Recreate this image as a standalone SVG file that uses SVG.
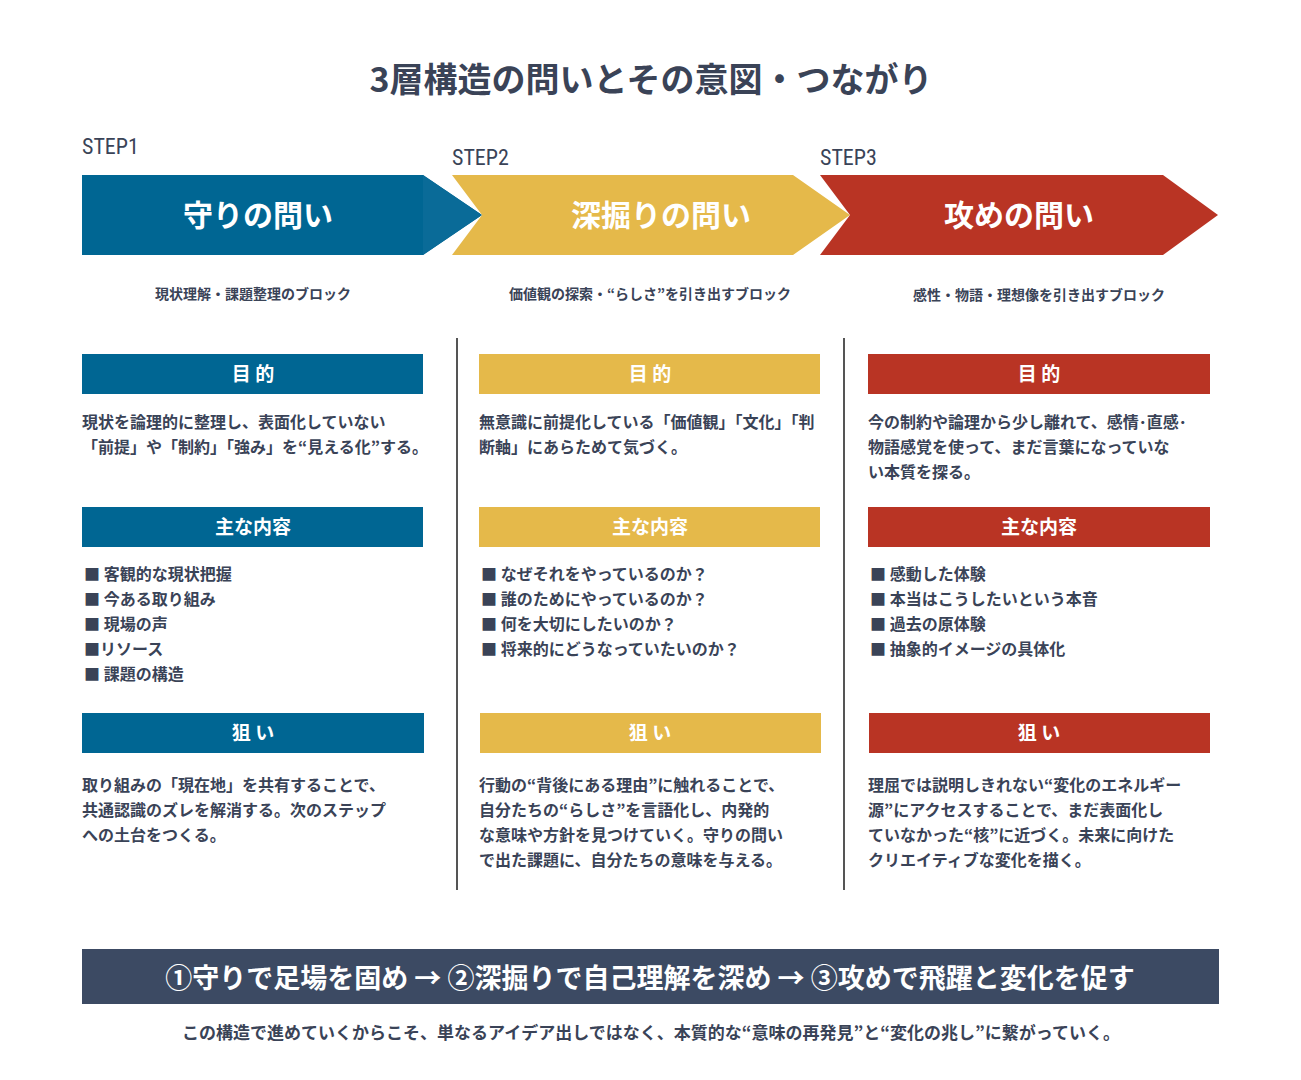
<svg xmlns="http://www.w3.org/2000/svg" width="1301" height="1080" viewBox="0 0 1301 1080">
<style>
text{font-family:"Noto Sans CJK JP","Noto Sans",sans-serif;font-weight:700;fill:#3a4357}
.t{font-size:34px}
.st{font-size:22px;font-family:"Roboto Condensed","Liberation Sans Narrow","Liberation Sans",sans-serif;font-weight:400}
.ar{font-size:30px;fill:#fff;text-anchor:middle}
.sub{font-size:14px;text-anchor:middle}
.hd{font-size:19px;fill:#fff;text-anchor:middle}
.b{font-size:16px}
.bl{fill:#006693}.ye{fill:#e5b94a}.re{fill:#b93424}
</style>
<rect width="1301" height="1080" fill="#fff"/>
<text class="t" x="651" y="92" text-anchor="middle">3層構造の問いとその意図・つながり</text>
<g id="steps">
<text class="st" x="82" y="154">STEP1</text>
<text class="st" x="452" y="165">STEP2</text>
<text class="st" x="820" y="165">STEP3</text>
</g>
<g id="arrow1"><polygon class="bl" points="82,175 423,175 482,215 423,255 82,255"/><polygon points="423,175 482,215 423,255" fill="#0a6b98"/><text class="ar" x="258" y="226">守りの問い</text></g>
<g id="arrow2"><polygon class="ye" points="452,175 793,175 850,215 793,255 452,255 482,215"/><text class="ar" x="661" y="226">深掘りの問い</text></g>
<g id="arrow3"><polygon class="re" points="820,175 1163,175 1218,215 1163,255 820,255 850,215"/><text class="ar" x="1019" y="226">攻めの問い</text></g>
<g id="subs">
<text class="sub" x="253" y="299">現状理解・課題整理のブロック</text>
<text class="sub" x="650" y="299">価値観の探索・“らしさ”を引き出すブロック</text>
<text class="sub" x="1039" y="300">感性・物語・理想像を引き出すブロック</text>
</g>
<g id="connectors"><line x1="457" y1="338" x2="457" y2="890" stroke="#555" stroke-width="2"/><line x1="844" y1="338" x2="844" y2="890" stroke="#555" stroke-width="2"/></g>
<g id="col1">
<rect class="bl" x="82" y="354" width="341" height="40"/><text class="hd" x="253" y="381">目 的</text>
<text class="b" x="82" y="428">現状を論理的に整理し、表面化していない</text>
<text class="b" x="82" y="453">「前提」や「制約」「強み」を“見える化”する。</text>
<rect class="bl" x="82" y="507" width="341" height="40"/><text class="hd" x="253" y="534">主な内容</text>
<text class="b" x="84" y="580">■ 客観的な現状把握</text>
<text class="b" x="84" y="605">■ 今ある取り組み</text>
<text class="b" x="84" y="630">■ 現場の声</text>
<text class="b" x="84" y="655">■リソース</text>
<text class="b" x="84" y="680">■ 課題の構造</text>
<rect class="bl" x="82" y="713" width="342" height="40"/><text class="hd" x="253" y="740">狙 い</text>
<text class="b" x="82" y="791">取り組みの「現在地」を共有することで、</text>
<text class="b" x="82" y="816">共通認識のズレを解消する。次のステップ</text>
<text class="b" x="82" y="841">への土台をつくる。</text>
</g>
<g id="col2">
<rect class="ye" x="479" y="354" width="341" height="40"/><text class="hd" x="650" y="381">目 的</text>
<text class="b" x="479" y="428">無意識に前提化している「価値観」「文化」「判</text>
<text class="b" x="479" y="453">断軸」にあらためて気づく。</text>
<rect class="ye" x="479" y="507" width="341" height="40"/><text class="hd" x="650" y="534">主な内容</text>
<text class="b" x="481" y="580">■ なぜそれをやっているのか？</text>
<text class="b" x="481" y="605">■ 誰のためにやっているのか？</text>
<text class="b" x="481" y="630">■ 何を大切にしたいのか？</text>
<text class="b" x="481" y="655">■ 将来的にどうなっていたいのか？</text>
<rect class="ye" x="480" y="713" width="341" height="40"/><text class="hd" x="650" y="740">狙 い</text>
<text class="b" x="479" y="791">行動の“背後にある理由”に触れることで、</text>
<text class="b" x="479" y="816">自分たちの“らしさ”を言語化し、内発的</text>
<text class="b" x="479" y="841">な意味や方針を見つけていく。守りの問い</text>
<text class="b" x="479" y="866">で出た課題に、自分たちの意味を与える。</text>
</g>
<g id="col3">
<rect class="re" x="868" y="354" width="342" height="40"/><text class="hd" x="1039" y="381">目 的</text>
<text class="b" x="868" y="428">今の制約や論理から少し離れて、感情･直感･</text>
<text class="b" x="868" y="453">物語感覚を使って、まだ言葉になっていな</text>
<text class="b" x="868" y="478">い本質を探る。</text>
<rect class="re" x="868" y="507" width="342" height="40"/><text class="hd" x="1039" y="534">主な内容</text>
<text class="b" x="870" y="580">■ 感動した体験</text>
<text class="b" x="870" y="605">■ 本当はこうしたいという本音</text>
<text class="b" x="870" y="630">■ 過去の原体験</text>
<text class="b" x="870" y="655">■ 抽象的イメージの具体化</text>
<rect class="re" x="869" y="713" width="341" height="40"/><text class="hd" x="1039" y="740">狙 い</text>
<text class="b" x="868" y="791">理屈では説明しきれない“変化のエネルギー</text>
<text class="b" x="868" y="816">源”にアクセスすることで、まだ表面化し</text>
<text class="b" x="868" y="841">ていなかった“核”に近づく。未来に向けた</text>
<text class="b" x="868" y="866">クリエイティブな変化を描く。</text>
</g>
<g id="banner"><rect x="82" y="949" width="1137" height="55" fill="#3c4a63"/><text x="650" y="988" text-anchor="middle" style="font-size:27px;fill:#fff">①守りで足場を固め → ②深掘りで自己理解を深め → ③攻めで飛躍と変化を促す</text></g>
<text x="651" y="1039" text-anchor="middle" style="font-size:17px">この構造で進めていくからこそ、単なるアイデア出しではなく、本質的な“意味の再発見”と“変化の兆し”に繋がっていく。</text>
</svg>
